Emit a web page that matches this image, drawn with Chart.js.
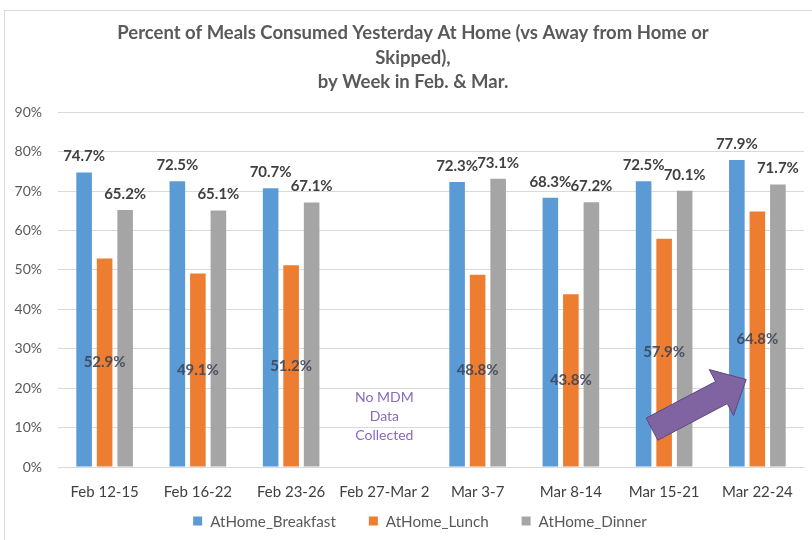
<!DOCTYPE html>
<html><head><meta charset="utf-8">
<script src="https://cdn.jsdelivr.net/npm/chart.js@4/dist/chart.umd.min.js"></script>
<style>
html,body{margin:0;padding:0;background:#fff;}
#wrap{position:relative;width:812px;height:540px;overflow:hidden;}
#frame{position:absolute;left:4px;top:10px;width:900px;height:700px;border-left:1px solid #d9d9d9;border-top:1px solid #d9d9d9;pointer-events:none;}
canvas{position:absolute;left:0;top:0;}
</style></head>
<body>
<div id="wrap"><div id="frame"></div><canvas id="c" width="812" height="540"></canvas></div>
<script>
const categories = ['Feb 12-15','Feb 16-22','Feb 23-26','Feb 27-Mar 2','Mar 3-7','Mar 8-14','Mar 15-21','Mar 22-24'];
const breakfast = [74.7, 72.5, 70.7, null, 72.3, 68.3, 72.5, 77.9];
const lunch     = [52.9, 49.1, 51.2, null, 48.8, 43.8, 57.9, 64.8];
const dinner    = [65.2, 65.1, 67.1, null, 73.1, 67.2, 70.1, 71.7];
const seriesNames = ['AtHome_Breakfast','AtHome_Lunch','AtHome_Dinner'];
const seriesColors = ['#5b9bd5','#ed7d31','#a5a5a5'];
const titleLines = ['Percent of Meals Consumed Yesterday At Home (vs Away from Home or','Skipped),','by Week in Feb. & Mar.'];
const noteLines = ['No MDM','Data','Collected'];
const yTicks = [0,10,20,30,40,50,60,70,80,90];

const FONT = "Lato, 'Open Sans', sans-serif";

const labelPlugin = {
  id: 'valLabels',
  afterDatasetsDraw(chart){
    const ctx = chart.ctx;
    ctx.save();
    ctx.font = "bold 15px " + FONT;
    ctx.textAlign = 'center';
    ctx.textBaseline = 'middle';
    chart.data.datasets.forEach((ds, di) => {
      const meta = chart.getDatasetMeta(di);
      meta.data.forEach((el, i) => {
        const v = ds.data[i];
        if (v === null || v === undefined) return;
        const p = el.getProps(['x','y','base'], true);
        const txt = v.toFixed(1) + '%';
        if (di === 1) {
          ctx.fillStyle = 'rgba(55,65,85,0.85)';
          ctx.fillText(txt, p.x, (p.y + p.base) / 2);
        } else {
          ctx.fillStyle = '#404040';
          ctx.fillText(txt, p.x, p.y - 16);
        }
      });
    });
    ctx.restore();
  }
};

const notePlugin = {
  id: 'noteAndArrow',
  afterDatasetsDraw(chart){
    const ctx = chart.ctx, xs = chart.scales.x, ys = chart.scales.y;
    ctx.save();
    ctx.font = "14px " + FONT;
    ctx.fillStyle = '#8a68bd';
    ctx.textAlign = 'center';
    ctx.textBaseline = 'middle';
    const nx = xs.getPixelForValue(3);
    const noteVals = [17.6, 12.7, 7.9];
    noteLines.forEach((t, i) => ctx.fillText(t, nx, ys.getPixelForValue(noteVals[i])));
    const tx = xs.getPixelForValue(6.88), ty = ys.getPixelForValue(22.2);
    const sx = xs.getPixelForValue(5.87), sy = ys.getPixelForValue(9.6);
    const dx = tx - sx, dy = ty - sy, L = Math.hypot(dx, dy);
    const ux = dx / L, uy = dy / L, px = -uy, py = ux;
    const sw = 12.5, hw = 26, hl = 28;
    const bx = tx - ux * hl, by = ty - uy * hl;
    ctx.beginPath();
    ctx.moveTo(sx + px * sw, sy + py * sw);
    ctx.lineTo(bx + px * sw, by + py * sw);
    ctx.lineTo(bx + px * hw, by + py * hw);
    ctx.lineTo(tx, ty);
    ctx.lineTo(bx - px * hw, by - py * hw);
    ctx.lineTo(bx - px * sw, by - py * sw);
    ctx.lineTo(sx - px * sw, sy - py * sw);
    ctx.closePath();
    ctx.fillStyle = '#8064a2';
    ctx.fill();
    ctx.strokeStyle = '#5c4680';
    ctx.lineWidth = 1;
    ctx.stroke();
    ctx.restore();
  }
};

const layoutPlugin = {
  id: 'titleShift',
  afterLayout(chart){
    if (chart.titleBlock) chart.titleBlock.left = 22;
  }
};

const legendPlugin = {
  id: 'customLegend',
  afterDraw(chart){
    const ctx = chart.ctx;
    ctx.save();
    ctx.font = "15.2px " + FONT;
    ctx.textBaseline = 'middle';
    ctx.textAlign = 'left';
    const box = 9, gap = 8, spacing = 33;
    const widths = chart.data.datasets.map(ds => box + gap + ctx.measureText(ds.label).width);
    const total = widths.reduce((a, b) => a + b, 0) + spacing * (widths.length - 1);
    let x = chart.width / 2 + 14 - total / 2;
    const y = 521;
    chart.data.datasets.forEach((ds, i) => {
      ctx.fillStyle = ds.backgroundColor;
      ctx.fillRect(x, y - box / 2, box, box);
      ctx.fillStyle = '#595959';
      ctx.fillText(ds.label, x + box + gap, y + 1);
      x += widths[i] + spacing;
    });
    ctx.restore();
  }
};

new Chart(document.getElementById('c'), {
  type: 'bar',
  data: {
    labels: categories,
    datasets: [
      {label: seriesNames[0], data: breakfast, backgroundColor: seriesColors[0]},
      {label: seriesNames[1], data: lunch, backgroundColor: seriesColors[1]},
      {label: seriesNames[2], data: dinner, backgroundColor: seriesColors[2]}
    ]
  },
  options: {
    responsive: false,
    animation: false,
    layout: {padding: {left: 14, right: 8, top: 0, bottom: 39}},
    categoryPercentage: 0.66,
    barPercentage: 0.76,
    plugins: {
      title: {
        display: true,
        text: titleLines,
        color: '#595959',
        font: {family: FONT, size: 18.5, weight: 'bold', lineHeight: 1.32},
        padding: {top: 21, bottom: 18}
      },
      legend: {display: false},
      tooltip: {enabled: false}
    },
    scales: {
      x: {
        grid: {display: false, drawTicks: false},
        border: {color: '#d9d9d9'},
        afterFit(scale){ scale.height = 34; },
        ticks: {color: '#404040', font: {family: FONT, size: 15}, padding: 16, maxRotation: 0, autoSkip: false}
      },
      y: {
        min: 0, max: 90,
        afterBuildTicks(scale){ scale.ticks = yTicks.map(v => ({value: v})); },
        afterFit(scale){ scale.width = 44; },
        grid: {color: '#d9d9d9', drawTicks: false},
        border: {display: false},
        ticks: {color: '#595959', font: {family: FONT, size: 14}, padding: 16, callback: v => v + '%'}
      }
    }
  },
  plugins: [labelPlugin, notePlugin, layoutPlugin, legendPlugin]
});
</script>
</body></html>
